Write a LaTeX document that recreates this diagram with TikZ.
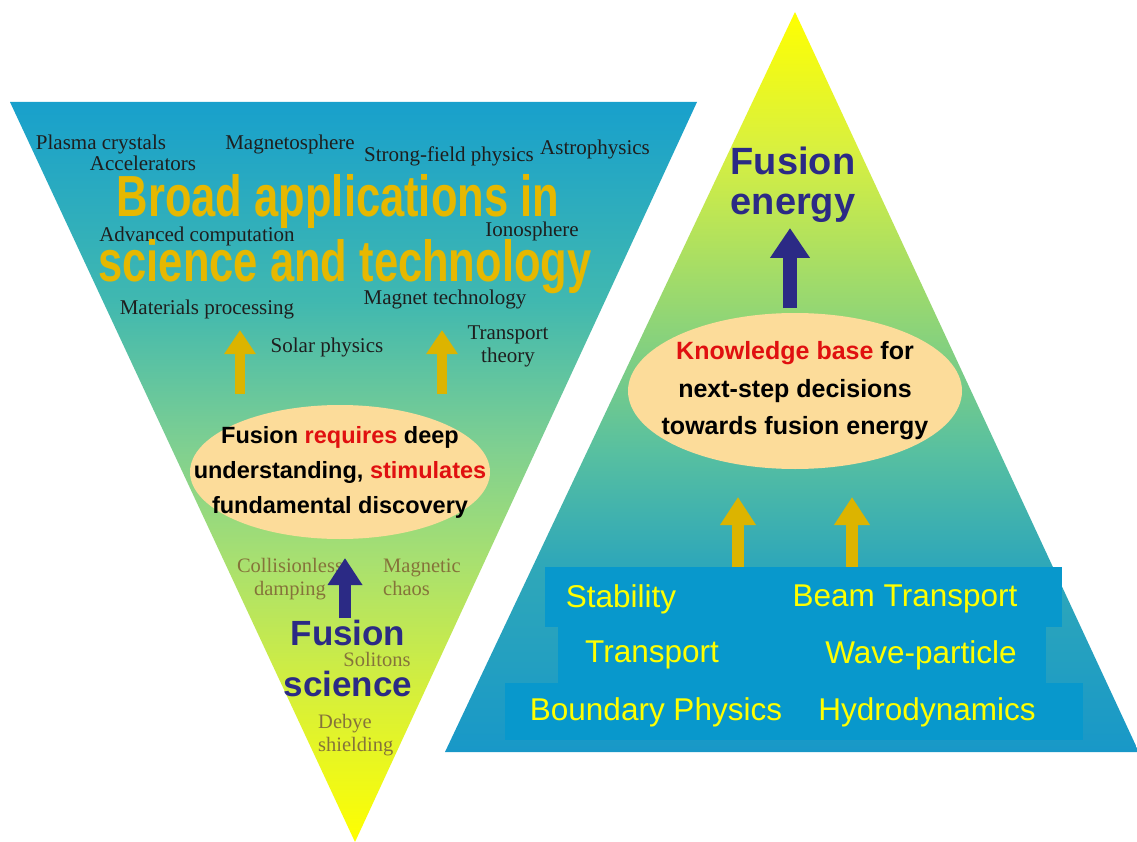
\documentclass[tikz,border=0pt]{standalone}
\usepackage{fontspec}
\setmainfont{Liberation Serif}
\newfontfamily\sansf{Liberation Sans}
\newfontfamily\narrowf[FakeStretch=0.75]{Liberation Sans}
\usetikzlibrary{arrows.meta,shapes.geometric}
\definecolor{navy}{HTML}{2B2A85}
\definecolor{redw}{HTML}{E01010}
\definecolor{bigyel}{HTML}{E6B800}
\definecolor{arryel}{HTML}{DCB400}
\definecolor{peach}{HTML}{FCDC9A}
\definecolor{boxblue}{HTML}{0898CC}
\definecolor{boxtxt}{HTML}{FFFF00}
\definecolor{darktxt}{HTML}{1E1E1E}
\definecolor{olive}{HTML}{85733A}
\definecolor{gA}{HTML}{D8F038}
\definecolor{gB}{HTML}{A8E070}
\definecolor{gC}{HTML}{80D090}
\definecolor{gD}{HTML}{40B8B0}
\definecolor{gE}{HTML}{18A0CC}
\definecolor{hA}{HTML}{1898C8}
\definecolor{hB}{HTML}{30A8B8}
\definecolor{hC}{HTML}{58C0A0}
\definecolor{hD}{HTML}{98D870}
\definecolor{hE}{HTML}{D8F040}
\pgfdeclareverticalshading{leftsh}{100bp}{color(0bp)=(yellow); color(25bp)=(yellow); color(34.6bp)=(gA); color(44bp)=(gB); color(51.5bp)=(gC); color(61.6bp)=(gD); color(75bp)=(gE); color(100bp)=(gE)}
\pgfdeclareverticalshading{rightsh}{100bp}{color(0bp)=(hA); color(25bp)=(hA); color(38bp)=(hB); color(45.4bp)=(hC); color(55.5bp)=(hD); color(65.7bp)=(hE); color(75bp)=(yellow); color(100bp)=(yellow)}
\tikzset{
  serif/.style={font=\fontsize{21}{23}\selectfont, text=darktxt, inner sep=0pt, align=center},
  olivet/.style={font=\fontsize{20.5}{23}\selectfont, text=olive, inner sep=0pt},
  bigt/.style={font=\narrowf\bfseries\fontsize{58}{58}\selectfont, text=bigyel, inner sep=0pt},
  navyt/.style={font=\sansf\bfseries\fontsize{35}{40}\selectfont, text=navy, inner sep=0pt, align=center},
  boxt/.style={font=\sansf\fontsize{31.5}{34}\selectfont, text=boxtxt, inner sep=0pt},
  ell/.style={ellipse, fill=peach, inner sep=0pt},
  yarrow/.style={draw=arryel, line width=10pt, -{Triangle[width=30pt,length=24pt]}},
  narrow/.style={draw=navy, line width=12pt, -{Triangle[width=33pt,length=27pt]}},
}
\begin{document}
\begin{tikzpicture}[x=1pt,y=-1pt]
\useasboundingbox (0,0) rectangle (1137,842);
\fill[white] (0,0) rectangle (1137,842);
% triangles
\shade[shading=leftsh] (10,102) -- (697,102) -- (355,842) -- cycle;
\shade[shading=rightsh] (795,12) -- (1137,748) -- (1137,752) -- (445,752) -- cycle;
% blue box
\fill[boxblue] (545,567) rectangle (1062,627);
\fill[boxblue] (558,627) rectangle (1046,683);
\fill[boxblue] (505,683) rectangle (1083,740);
% ellipses
\node[ell, minimum width=300pt, minimum height=134pt] (le) at (340,472) {};
\node[ell, minimum width=334pt, minimum height=156pt] (re) at (795,391) {};
% left texts
\node[serif] (t1) at (101,144) {Plasma crystals};
\node[serif] (t2) at (143,163) {Accelerators};
\node[serif] (t3) at (290,144) {Magnetosphere};
\node[serif] (t4) at (449,156) {Strong-field physics};
\node[serif] (t5) at (595,149) {Astrophysics};
\node[serif] (t6) at (197,236) {Advanced computation};
\node[serif] (t7) at (532,231) {Ionosphere};
\node[serif] (t8) at (207,309) {Materials processing};
\node[serif] (t9) at (445,299) {Magnet technology};
\node[serif] (t10) at (327,347) {Solar physics};
\node[serif] (t11) at (508,346) {Transport\\theory};
\node[bigt] (b1) at (338,202) {Broad applications in};
\node[bigt] (b2) at (345,267) {science and technology};
\node[font=\sansf\bfseries\fontsize{23.5}{35}\selectfont, align=center, inner sep=0pt] (lt) at (340,472)
  {Fusion \textcolor{redw}{requires} deep\\understanding, \textcolor{redw}{stimulates}\\fundamental discovery};
% lower left texts
\node[olivet, align=center] (c1) at (290,579) {Collisionless\\damping};
\node[olivet, align=left, anchor=west] (c2) at (383,577) {Magnetic\\chaos};
\node[olivet] (c3) at (377,659) {Solitons};
\node[olivet, align=left, anchor=west] (c4) at (318,735) {Debye\\shielding};
\node[navyt] (fs1) at (348,633) {Fusion};
\node[navyt] (fs2) at (348,684) {science};
% right texts
\node[navyt, font=\sansf\bfseries\fontsize{38}{40}\selectfont] (fe) at (793,185) {Fusion\\energy};
\node[font=\sansf\bfseries\fontsize{25}{37.5}\selectfont, align=center, inner sep=0pt] (rt) at (795,391)
  {\textcolor{redw}{Knowledge base} for\\next-step decisions\\towards fusion energy};
\node[boxt] (s1) at (621,599) {Stability};
\node[boxt] (s2) at (905,599) {Beam Transport};
\node[boxt] (s3) at (652,655) {Transport};
\node[boxt] (s4) at (921,655) {Wave-particle};
\node[boxt] (s5) at (656,712) {Boundary Physics};
\node[boxt] (s6) at (927,712) {Hydrodynamics};
% arrows
\coordinate (a1s) at (240,394); \coordinate (a1e) at (240,330);
\coordinate (a2s) at (442,394); \coordinate (a2e) at (442,330);
\draw[yarrow] (a1s) -- (a1e);
\draw[yarrow] (a2s) -- (a2e);
\coordinate (n1s) at (345,618); \coordinate (n1e) at (345,558);
\draw[narrow] (n1s) -- (n1e);
\coordinate (n2s) at (790,308); \coordinate (n2e) at (790,228);
\draw[narrow, line width=14pt, -{Triangle[width=38pt,length=30pt]}] (n2s) -- (n2e);
\coordinate (a3s) at (738,567); \coordinate (a3e) at (738,497);
\coordinate (a4s) at (852,567); \coordinate (a4e) at (852,497);
\draw[yarrow, line width=12pt, -{Triangle[width=34pt,length=28pt]}] (a3s) -- (a3e);
\draw[yarrow, line width=12pt, -{Triangle[width=34pt,length=28pt]}] (a4s) -- (a4e);
\end{tikzpicture}
\end{document}
